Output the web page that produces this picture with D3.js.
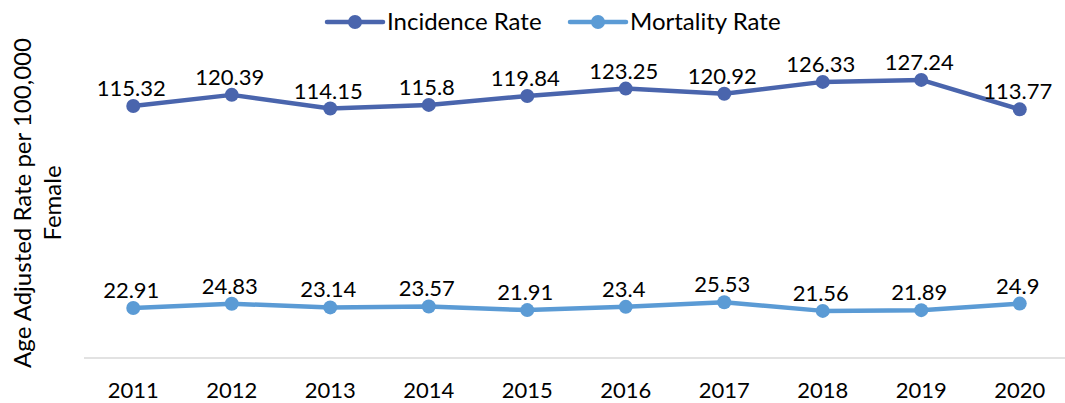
<!DOCTYPE html>
<html>
<head>
<meta charset="utf-8">
<script src="https://cdn.jsdelivr.net/npm/d3@7"></script>
<style>
  body { margin: 0; background: #fff; }
  svg { display: block; font-family: "Lato", "Open Sans", sans-serif; }
</style>
</head>
<body>
<div id="chart"></div>
<script>
const years = ["2011", "2012", "2013", "2014", "2015", "2016", "2017", "2018", "2019", "2020"]
const incidence = [115.32, 120.39, 114.15, 115.8, 119.84, 123.25, 120.92, 126.33, 127.24, 113.77]
const mortality = [22.91, 24.83, 23.14, 23.57, 21.91, 23.4, 25.53, 21.56, 21.89, 24.9]
const seriesNames = ["Incidence Rate", "Mortality Rate"]
const seriesColors = ["#4a65ad", "#5b9bd5"]

const width = 1065
const height = 403
const margin = { top: 52, right: -4, bottom: 45, left: 84 }

const svg = d3.select("#chart")
  .append("svg")
  .attr("width", width)
  .attr("height", height)

const x = d3.scaleBand()
  .domain(years)
  .range([margin.left, width - margin.right])

const y = d3.scaleLinear()
  .domain([0, 140])
  .range([height - margin.bottom, margin.top])

// baseline
svg.append("line")
  .attr("x1", margin.left)
  .attr("x2", width)
  .attr("y1", y(0))
  .attr("y2", y(0))
  .attr("stroke", "#d9d9d9")
  .attr("stroke-width", 1.5)

// x tick labels
const xAxis = svg.append("g")
  .attr("transform", "translate(0," + y(0) + ")")
  .call(d3.axisBottom(x).tickSize(0).tickPadding(24))
xAxis.select(".domain").remove()
xAxis.selectAll("text")
  .attr("font-size", 22)
  .attr("font-family", "Lato, sans-serif")
  .attr("fill", "#000")
  .attr("dy", "0.71em")

// y axis title
const title = svg.append("text")
  .attr("transform", "translate(23," + 203 + ") rotate(-90)")
  .attr("text-anchor", "middle")
  .attr("font-size", 24)
  .attr("fill", "#000")
title.append("tspan").attr("x", 0).attr("dy", "0.35em").text("Age Adjusted Rate per 100,000")
title.append("tspan").attr("x", 0).attr("dy", "1.25em").text("Female")

const series = [incidence, mortality]
const line = d3.line()
  .x((d, i) => x(years[i]) + x.bandwidth() / 2)
  .y(d => y(d))

series.forEach((values, s) => {
  const g = svg.append("g")
  g.append("path")
    .datum(values)
    .attr("fill", "none")
    .attr("stroke", seriesColors[s])
    .attr("stroke-width", 4.5)
    .attr("stroke-linejoin", "round")
    .attr("d", line)

  g.selectAll("circle")
    .data(values)
    .enter()
    .append("circle")
    .attr("cx", (d, i) => x(years[i]) + x.bandwidth() / 2)
    .attr("cy", d => y(d))
    .attr("r", 7)
    .attr("fill", seriesColors[s])

  g.selectAll("text")
    .data(values)
    .enter()
    .append("text")
    .attr("x", (d, i) => x(years[i]) + x.bandwidth() / 2 - 2)
    .attr("y", d => y(d) - 10)
    .attr("text-anchor", "middle")
    .attr("font-size", 22)
    .attr("fill", "#000")
    .text(d => d)
})

// legend
const legendX = [327, 570]
seriesNames.forEach((name, s) => {
  const lg = svg.append("g").attr("transform", "translate(" + legendX[s] + ",22)")
  lg.append("line")
    .attr("x1", 0).attr("x2", 56)
    .attr("stroke", seriesColors[s])
    .attr("stroke-width", 4.5)
    .attr("stroke-linecap", "round")
  lg.append("circle")
    .attr("cx", 28)
    .attr("r", 7)
    .attr("fill", seriesColors[s])
  lg.append("text")
    .attr("x", 60)
    .attr("dy", "0.35em")
    .attr("font-size", 24)
    .attr("fill", "#000")
    .text(name)
})
</script>
</body>
</html>
